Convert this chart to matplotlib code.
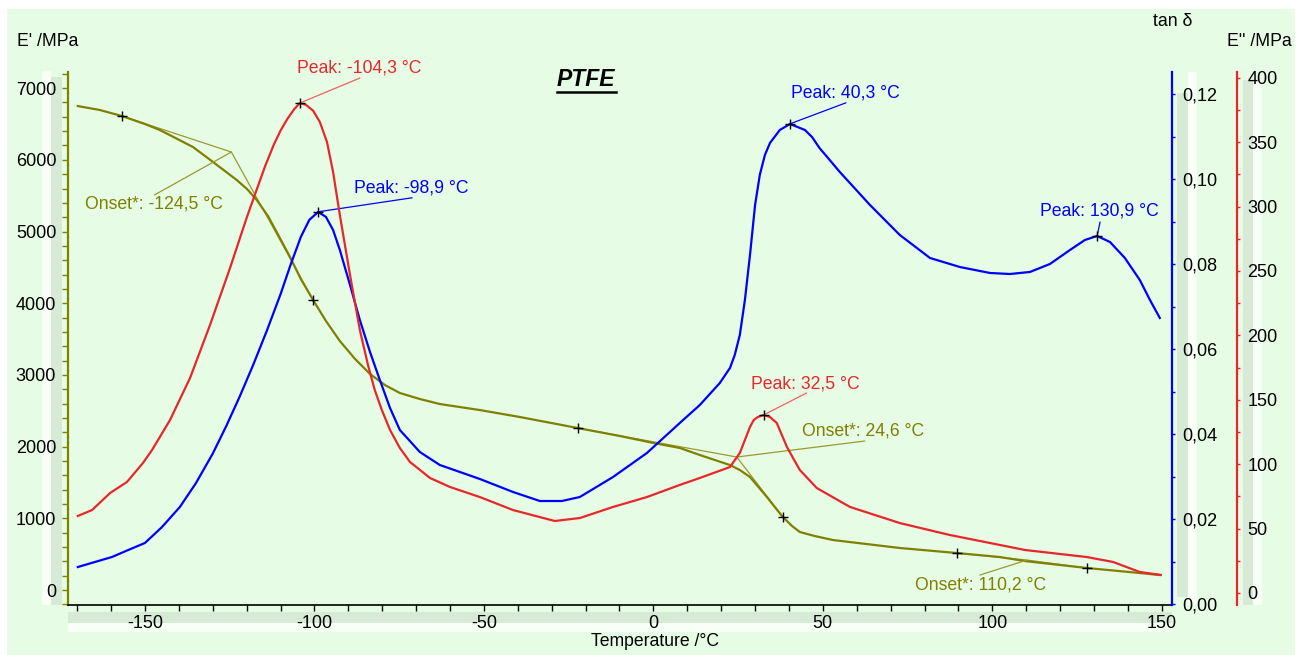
import matplotlib
matplotlib.use('Agg')
import matplotlib.pyplot as plt
from matplotlib.ticker import MultipleLocator, FuncFormatter
from matplotlib.patches import Rectangle
from matplotlib.lines import Line2D

plt.rcParams['font.family'] = ['Liberation Sans', 'DejaVu Sans']
plt.rcParams['axes.unicode_minus'] = False

# ---------------- data ----------------
# Storage modulus E' (MPa)
T_E1 = [-169.8, -163.3, -156.8, -150.0, -145.6, -135.8, -129.9, -122.9, -119.9, -117.0,
        -113.7, -110.5, -107.2, -104.0, -100.4, -96.6, -92.5, -88.0, -83.6, -79.2,
        -74.8, -68.9, -63.0, -51.2, -39.4, -22.3, -9.9, 0.1, 7.8, 13.7,
        22.6, 25.5, 28.5, 33.5, 35.8, 38.2, 40.9, 43.2, 47.6, 53.0,
        72.7, 89.5, 102.2, 109.6, 127.9, 143.5, 149.4]
E1 = [6750, 6695, 6611, 6499, 6416, 6178, 5969, 5718, 5593, 5439,
      5216, 4937, 4644, 4337, 4045, 3752, 3473, 3222, 3013, 2859,
      2748, 2664, 2594, 2510, 2413, 2259, 2148, 2050, 1981, 1883,
      1743, 1674, 1576, 1297, 1158, 1018, 893, 809, 753, 697,
      586, 516, 460, 404, 307, 237, 209]

# tan delta
T_TAN = [-169.8, -159.7, -155.0, -150.0, -145.0, -139.7, -135.0, -130.0, -126.0, -122.0,
         -118.0, -114.0, -110.0, -107.0, -104.0, -101.5, -98.9, -96.6,
         -94.5, -92.5, -89.5, -86.6, -83.6, -80.7, -77.7, -74.8, -68.9, -63.0,
         -57.1, -51.2, -41.4, -33.5, -27.0, -21.7, -11.9, -1.9, 7.8, 13.7,
         19.6, 22.6, 24.0, 25.5, 27.0, 28.5, 30.0, 31.4, 32.9, 34.4,
         37.3, 40.3, 44.7, 46.8, 49.0, 52.0, 55.0, 63.9, 72.7, 81.6,
         90.4, 99.3, 105.2, 111.1, 117.0, 122.9, 127.3, 130.9, 134.7, 139.1,
         143.5, 146.5, 149.4]
TAN = [0.00882, 0.01118, 0.01280, 0.01447, 0.01820, 0.02294, 0.02850, 0.03550, 0.04200, 0.04900,
       0.05650, 0.06450, 0.07300, 0.08000, 0.08650, 0.09050, 0.09235, 0.09120,
       0.08812, 0.08341, 0.07518, 0.06694, 0.05941, 0.05282, 0.04624, 0.04106, 0.03588, 0.03282,
       0.03118, 0.02953, 0.02647, 0.02435, 0.02435, 0.02529, 0.03000, 0.03565, 0.04271, 0.04694,
       0.05212, 0.05565, 0.05870, 0.06341, 0.07165, 0.08224, 0.09400, 0.10110, 0.10576, 0.10860,
       0.11165, 0.11306, 0.11165, 0.11000, 0.10741, 0.10460, 0.10176, 0.09400, 0.08694, 0.08153,
       0.07941, 0.07800, 0.07776, 0.07824, 0.08012, 0.08341, 0.08576, 0.08671, 0.08529, 0.08153,
       0.07635, 0.07165, 0.06741]

# Loss modulus E'' (MPa)
T_E2 = [-169.8, -165.6, -160.3, -155.3, -150.6, -147.9, -142.6, -136.7, -130.8, -124.9,
        -119.9, -116.1, -114.6, -112.0, -110.0, -108.0, -106.0, -104.3, -102.5,
        -100.4, -98.4, -96.3, -94.5, -92.5, -89.5, -86.6, -84.2, -82.2,
        -80.1, -77.7, -74.8, -71.8, -65.9, -60.0, -51.2, -41.4, -29.1, -21.7,
        -11.9, -1.9, 7.8, 13.7, 22.6, 25.5, 27.0, 28.5, 29.6, 30.8,
        32.5, 34.4, 36.4, 37.9, 39.4, 41.2, 43.2, 48.2, 58.0, 72.7,
        87.5, 102.2, 109.6, 127.9, 135.6, 143.5, 149.7]
E2 = [59.8, 64.4, 77.6, 86.2, 100.9, 111.0, 134.3, 166.9, 208.1, 252.3,
      292.0, 320.0, 331.0, 348.0, 359.0, 368.0, 375.5, 380.4, 379.0,
      374.5, 365.7, 350.2, 326.9, 293.5, 246.9, 204.2, 177.0, 157.6,
      142.0, 126.6, 112.6, 101.7, 89.3, 82.3, 74.5, 64.4, 55.9, 58.2,
      66.8, 74.5, 83.9, 89.3, 97.8, 108.7, 118.8, 128.9, 134.3, 136.6,
      138.2, 136.6, 132.0, 122.7, 113.4, 104.8, 95.5, 81.5, 66.8, 54.3,
      45.0, 37.3, 33.4, 27.9, 24.1, 16.3, 14.0]

# evaluation results
E1_MARK_T = [-156.8, -100.4, -22.3, 38.2, 89.5, 127.9]
E1_MARK_V = [6611, 4045, 2259, 1018, 516, 307]
ONSET_T = [-124.5, 24.6, 110.2]
ONSET_V = [6109, 1855, 418]
ONSET_LABELS = ['Onset*: -124,5 °C', 'Onset*: 24,6 °C', 'Onset*: 110,2 °C']
TAN_PEAK_T = [-98.9, 40.3, 130.9]
TAN_PEAK_V = [0.0924, 0.1131, 0.0867]
TAN_PEAK_LABELS = ['Peak: -98,9 °C', 'Peak: 40,3 °C', 'Peak: 130,9 °C']
E2_PEAK_T = [-104.3, 32.5]
E2_PEAK_V = [380.4, 138.2]
E2_PEAK_LABELS = ['Peak: -104,3 °C', 'Peak: 32,5 °C']

# ---------------- style ----------------
W, H = 1306, 655
BG = '#e6fce4'
STRIP = '#d6ead6'
WSTRIP = '#f7fff6'
OLIVE = '#808000'
OLIVE_L = '#9a9a30'
BLUE = '#0000ff'
RED = '#e8262d'
FS = 12.7

fig = plt.figure(figsize=(W / 100, H / 100), dpi=100, facecolor='white')


def fx(px):
    return px / W


def fy(py):
    return 1 - py / H


def rect(x0, y0, x1, y1, color, z=-10):
    fig.patches.append(Rectangle((fx(x0), fy(y1)), fx(x1) - fx(x0), fy(y0) - fy(y1),
                                 transform=fig.transFigure, facecolor=color,
                                 edgecolor='none', zorder=z))


rect(7, 9, 1295, 656, BG, -20)
# decorative strips behind tick labels
rect(42, 71, 51, 605, WSTRIP)
rect(51, 77, 62, 605, STRIP)
rect(1188, 72, 1197, 605, WSTRIP)
rect(1177, 93, 1188, 597, STRIP)
rect(1243, 80, 1253, 605, STRIP)
rect(1253, 80, 1262, 605, WSTRIP)
rect(68, 612, 1172, 623, STRIP)
rect(68, 623, 1172, 632, WSTRIP)

L, R, T, B = 68, 1172, 72, 605
ax = fig.add_axes([fx(L), fy(B), fx(R) - fx(L), fy(T) - fy(B)])
ax.set_facecolor('none')
ax.set_xlim(-172.7, 153.0)
ax.set_ylim(-209, 7225)

ax_t = ax.twinx()
ax_t.set_ylim(-0.00012, 0.12529)
ax_r = ax.twinx()
ax_r.set_ylim(-9.32, 404.5)
for a in (ax_t, ax_r):
    a.set_facecolor('none')

# spines
for s in ('top', 'right'):
    ax.spines[s].set_visible(False)
ax.spines['left'].set_color(OLIVE)
ax.spines['left'].set_linewidth(1.6)
ax.spines['bottom'].set_color('black')
ax.spines['bottom'].set_linewidth(1.2)
for a, c in ((ax_t, BLUE), (ax_r, RED)):
    for s in ('top', 'left', 'bottom'):
        a.spines[s].set_visible(False)
    a.spines['right'].set_color(c)
    a.spines['right'].set_linewidth(1.6)
ax_r.spines['right'].set_position(('axes', (1237 - L) / (R - L)))

# ticks
ax.xaxis.set_major_locator(MultipleLocator(50))
ax.xaxis.set_minor_locator(MultipleLocator(10))
ax.xaxis.set_major_formatter(FuncFormatter(lambda v, p: '%d' % round(v)))
ax.tick_params(axis='x', which='both', direction='out', length=4, width=1,
               color='black', labelsize=13, pad=3.5)
ax.yaxis.set_major_locator(MultipleLocator(1000))
ax.yaxis.set_minor_locator(MultipleLocator(200))
ax.yaxis.set_major_formatter(FuncFormatter(lambda v, p: '%d' % round(v)))
ax.tick_params(axis='y', which='both', direction='out', length=4, width=1,
               color=OLIVE, labelsize=13, pad=4.5)

ax_t.yaxis.set_major_locator(MultipleLocator(0.02))
ax_t.yaxis.set_minor_locator(MultipleLocator(0.01))
ax_t.yaxis.set_major_formatter(FuncFormatter(lambda v, p: ('%.2f' % v).replace('.', ',')))
ax_t.tick_params(axis='y', which='both', direction='out', length=2.5, width=1,
                 color=BLUE, labelsize=13, pad=5)

ax_r.yaxis.set_major_locator(MultipleLocator(50))
ax_r.yaxis.set_minor_locator(MultipleLocator(25))
ax_r.yaxis.set_major_formatter(FuncFormatter(lambda v, p: '%d' % round(v)))
ax_r.tick_params(axis='y', which='both', direction='out', length=2.5, width=1,
                 color=RED, labelsize=13, pad=5)

# curves
ax.plot(T_E1, E1, color=OLIVE, lw=1.6, solid_joinstyle='round', zorder=3)
ax_t.plot(T_TAN, TAN, color=BLUE, lw=1.6, solid_joinstyle='round', zorder=3)
ax_r.plot(T_E2, E2, color=RED, lw=1.6, solid_joinstyle='round', zorder=3)

# onset constructions (tangents between marker points through onset point)
pairs = [(0, 1), (2, 3), (4, 5)]
for (i, j), ot, ov in zip(pairs, ONSET_T, ONSET_V):
    ax.plot([E1_MARK_T[i], ot, E1_MARK_T[j]], [E1_MARK_V[i], ov, E1_MARK_V[j]],
            color=OLIVE_L, lw=0.9, zorder=2)
ax.plot(E1_MARK_T, E1_MARK_V, '+', color='black', ms=7, mew=1, zorder=5)

onset_leader = [(-77, -43), (128, 16), (-47, -15)]
onset_text = [(-146, -52), (65, 26), (-112, -25)]
for ot, ov, lab, le, tx in zip(ONSET_T, ONSET_V, ONSET_LABELS, onset_leader, onset_text):
    ax.annotate('', xy=(ot, ov), xytext=le, textcoords='offset pixels',
                arrowprops=dict(arrowstyle='-', color=OLIVE_L, lw=0.9, shrinkA=0, shrinkB=0))
    ax.annotate(lab, xy=(ot, ov), xytext=tx, textcoords='offset pixels',
                ha='left', va='center', color=OLIVE, fontsize=FS)

# tan delta peaks
ax_t.plot(TAN_PEAK_T, TAN_PEAK_V, '+', color='black', ms=7, mew=1, zorder=5)
tan_leader = [(94, 14), (56, 21), (3, 14)]
tan_text = [(36, 24), (1, 31), (-57, 25)]
for pt, pv, lab, le, tx in zip(TAN_PEAK_T, TAN_PEAK_V, TAN_PEAK_LABELS, tan_leader, tan_text):
    ax_t.annotate('', xy=(pt, pv), xytext=le, textcoords='offset pixels',
                  arrowprops=dict(arrowstyle='-', color=BLUE, lw=0.9, shrinkA=0, shrinkB=0))
    ax_t.annotate(lab, xy=(pt, pv), xytext=tx, textcoords='offset pixels',
                  ha='left', va='center', color=BLUE, fontsize=FS)

# E'' peaks
ax_r.plot(E2_PEAK_T, E2_PEAK_V, '+', color='black', ms=7, mew=1, zorder=5)
e2_leader = [(60, 25), (43, 22)]
e2_text = [(-3, 35), (-13, 31)]
for pt, pv, lab, le, tx in zip(E2_PEAK_T, E2_PEAK_V, E2_PEAK_LABELS, e2_leader, e2_text):
    ax_r.annotate('', xy=(pt, pv), xytext=le, textcoords='offset pixels',
                  arrowprops=dict(arrowstyle='-', color='#f06060', lw=0.9, shrinkA=0, shrinkB=0))
    ax_r.annotate(lab, xy=(pt, pv), xytext=tx, textcoords='offset pixels',
                  ha='left', va='center', color=RED, fontsize=FS)

# axis titles
fig.text(fx(17), fy(42), "E' /MPa", ha='left', va='center', fontsize=FS)
fig.text(fx(1153), fy(21), "tan δ", ha='left', va='center', fontsize=FS)
fig.text(fx(1227), fy(42), "E'' /MPa", ha='left', va='center', fontsize=FS)
fig.text(fx(655), fy(641), "Temperature /°C", ha='center', va='center', fontsize=FS)

# title
fig.text(fx(586), fy(80), 'PTFE', ha='center', va='center', fontsize=16.5,
         weight='bold', style='italic')
fig.add_artist(Line2D([fx(557), fx(616)], [fy(92), fy(92)], color='black', lw=1.8,
                      transform=fig.transFigure))

fig.savefig('out.png', dpi=100, facecolor=fig.get_facecolor())
